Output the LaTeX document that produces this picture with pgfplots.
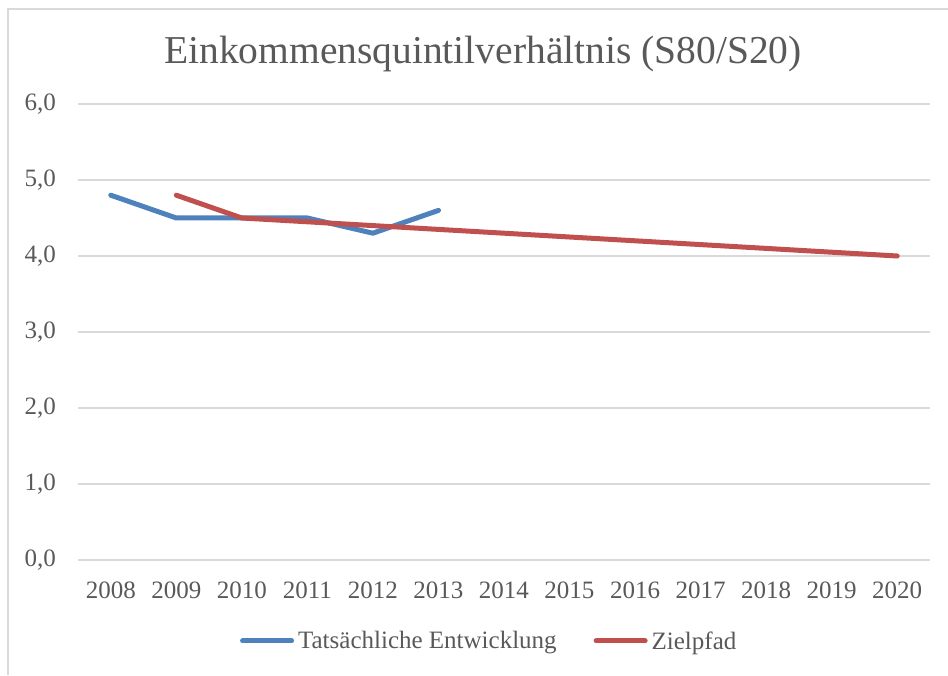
\documentclass[border=0pt]{standalone}
\usepackage{fontspec}
\setmainfont{Liberation Serif}
\usepackage{pgfplots}
\pgfplotsset{compat=1.18}
\definecolor{txt}{HTML}{595959}
\definecolor{gridc}{HTML}{D9D9D9}
\definecolor{sblue}{HTML}{4F81BD}
\definecolor{sred}{HTML}{C0504D}
\begin{document}
\begin{tikzpicture}[x=1pt,y=1pt]
\useasboundingbox (0,0) rectangle (948,675);
\draw[gridc, line width=1.5pt] (8,0) -- (8,666) -- (948,666);
\node[anchor=base, text=txt, font=\fontsize{39.5}{44}\selectfont] at (483,611) {Einkommensquintilverhältnis (S80/S20)};
\begin{axis}[
  at={(78pt,115pt)}, anchor=south west,
  scale only axis, width=852pt, height=456pt,
  xmin=2007.5, xmax=2020.5, ymin=0, ymax=6,
  xtick={2008,2009,...,2020}, ytick={0,1,...,6},
  axis line style={draw=none}, major tick length=0pt,
  ymajorgrids, grid style={gridc, line width=1.5pt},
  /pgf/number format/assume math mode=true,
  tick label style={text=txt, font=\fontsize{25}{29}\selectfont, inner sep=0pt},
  xticklabel style={/pgf/number format/1000 sep={}, anchor=north, yshift=-22pt},
  yticklabel style={/pgf/number format/.cd, fixed, fixed zerofill, precision=1, use comma, /tikz/.cd, anchor=east, xshift=-22pt},
  legend columns=2,
  legend style={at={(0.19,-0.1776)}, anchor=west, draw=none, fill=none, inner sep=0pt,
    font=\fontsize{25}{29}\selectfont, text=txt,
    nodes={inner sep=0pt},
    /tikz/every odd column/.append style={column sep=4pt},
    /tikz/every even column/.append style={column sep=37pt}},
  legend image code/.code={\draw[#1] (0pt,0pt) -- (49pt,0pt);},
]
\addplot[sblue, line width=5pt, line cap=round, line join=round] coordinates {
 (2008,4.8) (2009,4.5) (2010,4.5) (2011,4.5) (2012,4.3) (2013,4.6)};
\addlegendentry{Tatsächliche Entwicklung}
\addplot[sred, line width=5pt, line cap=round, line join=round] coordinates {
 (2009,4.8) (2010,4.5) (2011,4.45) (2012,4.4) (2013,4.35) (2014,4.3) (2015,4.25)
 (2016,4.2) (2017,4.15) (2018,4.1) (2019,4.05) (2020,4.0)};
\addlegendentry{Zielpfad}
\end{axis}
\end{tikzpicture}
\end{document}
